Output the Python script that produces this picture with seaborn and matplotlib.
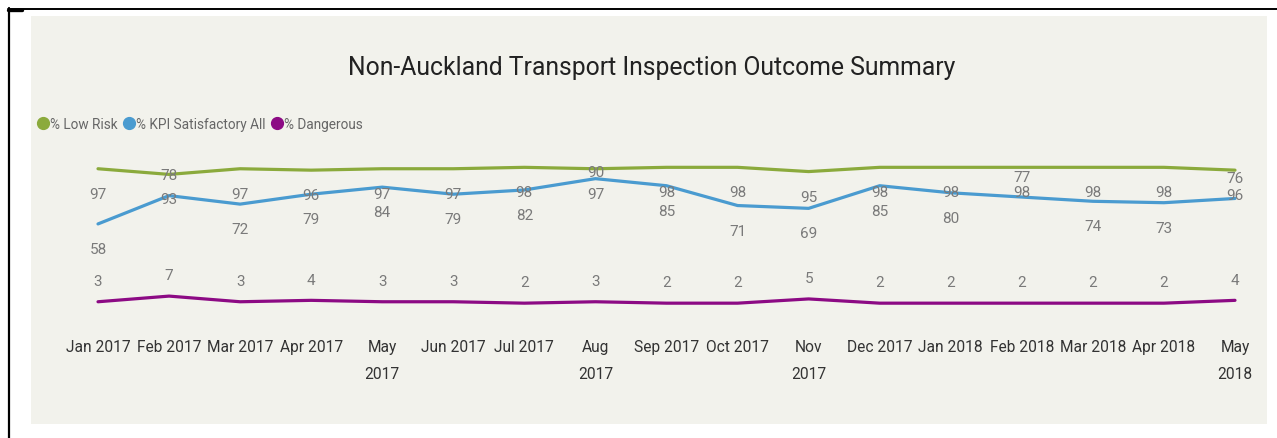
import matplotlib
matplotlib.use("Agg")
import matplotlib.pyplot as plt
from matplotlib import font_manager
from matplotlib.lines import Line2D
from matplotlib.patches import Rectangle
import seaborn as sns
import pandas as pd

months = ["Jan 2017", "Feb 2017", "Mar 2017", "Apr 2017", "May\n2017", "Jun 2017",
          "Jul 2017", "Aug\n2017", "Sep 2017", "Oct 2017", "Nov\n2017", "Dec 2017",
          "Jan 2018", "Feb 2018", "Mar 2018", "Apr 2018", "May\n2018"]
low_risk = [97, 93, 97, 96, 97, 97, 98, 97, 98, 98, 95, 98, 98, 98, 98, 98, 96]
kpi_satisfactory = [58, 78, 72, 79, 84, 79, 82, 90, 85, 71, 69, 85, 80, 77, 74, 73, 76]
dangerous = [3, 7, 3, 4, 3, 3, 2, 3, 2, 2, 5, 2, 2, 2, 2, 2, 4]
series_names = ["% Low Risk", "% KPI Satisfactory All", "% Dangerous"]
# label placement for the KPI series as in the reference (above / below the line)
kpi_label_side = ["below", "above", "below", "below", "below", "below", "below", "above",
                  "below", "below", "below", "below", "below", "above", "below", "below", "above"]

colors = ["#8BAA3C", "#4A9BD0", "#8C0A84"]

sns.set_theme(style="white")
available = {f.name for f in font_manager.fontManager.ttflist}
main_font = "Liberation Sans Narrow" if "Liberation Sans Narrow" in available else "Roboto"
plt.rcParams["font.family"] = [main_font, "DejaVu Sans"]

W, H = 1277, 439
fig = plt.figure(figsize=(W / 100, H / 100), dpi=100)
fig.patch.set_facecolor("white")

# panel background
fig.add_artist(Rectangle((31 / W, 1 - 425 / H), (1267 - 31) / W, (425 - 17) / H,
                         transform=fig.transFigure, facecolor="#F2F2EC", edgecolor="none", zorder=0))
# black frame lines
fig.add_artist(Line2D([8 / W, 1.0], [1 - 9.5 / H, 1 - 9.5 / H], transform=fig.transFigure,
                      color="black", lw=1.4))
fig.add_artist(Line2D([8.5 / W, 8.5 / W], [1 - 9 / H, 0], transform=fig.transFigure,
                      color="black", lw=1.6))
fig.add_artist(Line2D([8 / W, 22 / W], [1 - 10.5 / H, 1 - 10.5 / H], transform=fig.transFigure,
                      color="black", lw=2.4))

# axes: x index 0 at 98px, 16 at 1235px; y 0 at 307px, 100 at 165.5px
step = (1235 - 98) / 16
left = 98 - 0.5 * step
right = 1235 + 0.5 * step
y0, y100 = 307, 165.5
ax = fig.add_axes([left / W, 1 - y0 / H, (right - left) / W, (y0 - y100) / H])
ax.set_facecolor("none")

df = pd.DataFrame({
    "idx": list(range(len(months))) * 3,
    "value": low_risk + kpi_satisfactory + dangerous,
    "series": sum([[n] * len(months) for n in series_names], []),
})
sns.lineplot(data=df, x="idx", y="value", hue="series", palette=colors, linewidth=2.3,
             ax=ax, legend=False, sort=False)
for ln in ax.lines:
    ln.set_clip_on(False)

ax.set_xlim(-0.5, len(months) - 0.5)
ax.set_ylim(0, 100)
ax.set_xticks(range(len(months)))
ax.set_xticklabels(months, fontsize=11.2, color="#333333", linespacing=2.0)
ax.tick_params(axis="x", length=0, pad=24)
ax.set_yticks([])
ax.set_xlabel("")
ax.set_ylabel("")
for s in ax.spines.values():
    s.set_visible(False)

lab_kw = dict(fontsize=11, color="#7A7A7A", ha="center", va="center", annotation_clip=False)
for i, v in enumerate(low_risk):
    ax.annotate(f"{v}", (i, v), xytext=(0, -18), textcoords="offset points", **lab_kw)
for i, v in enumerate(kpi_satisfactory):
    if kpi_label_side[i] == "below":
        ax.annotate(f"{v}", (i, v), xytext=(0, -18), textcoords="offset points", **lab_kw)
    else:
        # above labels, kept inside the plot area's top band
        ax.annotate(f"{v}", (i, v), xytext=(i, min(v + 14.5, 94.7)), textcoords="data", **lab_kw)
for i, v in enumerate(dangerous):
    ax.annotate(f"{v}", (i, v), xytext=(0, 15), textcoords="offset points", **lab_kw)

# title
fig.text(652 / W, 1 - 68 / H, "Non-Auckland Transport Inspection Outcome Summary",
         ha="center", va="center", fontsize=17.8, color="#222222")

# legend
handles = [Line2D([], [], marker="o", linestyle="none", markersize=8.5, color=c) for c in colors]
fig.legend(handles, series_names, loc="center left", bbox_to_anchor=(37 / W, 1 - 125 / H),
           ncol=3, frameon=False, fontsize=9.8, labelcolor="#666666", handletextpad=0.05,
           columnspacing=0.4, handlelength=0.9, borderpad=0, borderaxespad=0)

fig.savefig("out.png", dpi=100)
